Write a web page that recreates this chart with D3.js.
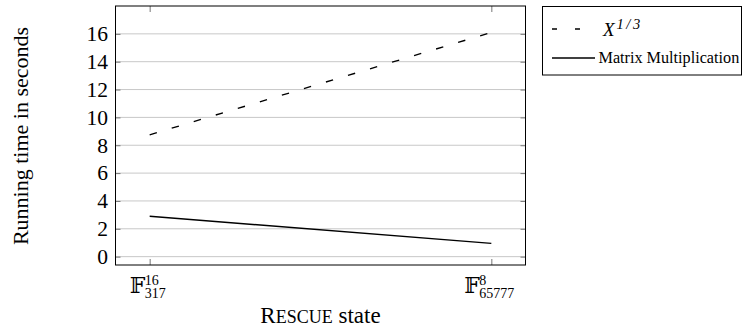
<!DOCTYPE html>
<html>
<head>
<meta charset="utf-8">
<script src="https://cdn.jsdelivr.net/npm/d3@7"></script>
<style>
  body { margin: 0; background: #fff; }
  svg text { font-family: 'Liberation Serif', 'Times New Roman', 'DejaVu Serif', serif; }
</style>
</head>
<body>
<svg id="chart" width="747" height="333"></svg>
<script>
// data
const states = ["F317^16", "F65777^8"];
const stateSup = ["16", "8"];
const stateSub = ["317", "65777"];
const cubeRoot = [8.75, 16.1];
const matMul = [2.9, 0.95];
const yTicks = [0, 2, 4, 6, 8, 10, 12, 14, 16];
const seriesNames = ["X", "Matrix Multiplication"];

const margin = {top: 6, left: 115.5, right: 525.5, bottom: 265};

const svg = d3.select("#chart");

const x = d3.scalePoint()
  .domain(states)
  .range([margin.left, margin.right])
  .padding(0.1);

const y = d3.scaleLinear()
  .domain([-0.6, 18])
  .range([margin.bottom, margin.top]);

// grid lines
svg.append("g")
  .selectAll("line")
  .data(yTicks)
  .enter().append("line")
  .attr("x1", margin.left).attr("x2", margin.right)
  .attr("y1", d => y(d)).attr("y2", d => y(d))
  .attr("stroke", "#c8c8c8")
  .attr("stroke-width", 1);

// y axis (ticks inside on both sides)
const yAxis = svg.append("g")
  .attr("transform", "translate(" + margin.left + ",0)")
  .call(d3.axisRight(y).tickValues(yTicks).tickSize(5).tickFormat(""));
yAxis.select(".domain").remove();
yAxis.selectAll(".tick line").attr("stroke", "#777");

const yAxisR = svg.append("g")
  .attr("transform", "translate(" + margin.right + ",0)")
  .call(d3.axisLeft(y).tickValues(yTicks).tickSize(5).tickFormat(""));
yAxisR.select(".domain").remove();
yAxisR.selectAll(".tick line").attr("stroke", "#777");

// y tick labels
svg.append("g")
  .selectAll("text")
  .data(yTicks)
  .enter().append("text")
  .attr("x", margin.left - 7.5)
  .attr("y", d => y(d))
  .attr("dy", "0.34em")
  .attr("text-anchor", "end")
  .attr("font-size", 21.5)
  .text(d => d);

// x axis ticks (bottom and top, inside)
const xAxis = svg.append("g")
  .attr("transform", "translate(0," + margin.bottom + ")")
  .call(d3.axisTop(x).tickSize(6).tickFormat(""));
xAxis.select(".domain").remove();
xAxis.selectAll(".tick line").attr("stroke", "#777");

const xAxisT = svg.append("g")
  .attr("transform", "translate(0," + margin.top + ")")
  .call(d3.axisBottom(x).tickSize(6).tickFormat(""));
xAxisT.select(".domain").remove();
xAxisT.selectAll(".tick line").attr("stroke", "#777");

// x tick labels: double-struck F with stacked sup/sub
const xl = svg.append("g")
  .selectAll("g")
  .data(states)
  .enter().append("g")
  .attr("transform", (d, i) => {
    const w = 15 + stateSub[i].length * 7;
    return "translate(" + (x(d) - w / 2 - 2) + ",0)";
  });
xl.append("text")
  .attr("x", 0).attr("y", 293)
  .style("font-family", "'DejaVu Serif', 'DejaVu Sans'")
  .attr("font-size", 22)
  .text("\u{1D53D}");
xl.append("text")
  .attr("x", 15).attr("y", 284.5)
  .attr("font-size", 14)
  .text((d, i) => stateSup[i]);
xl.append("text")
  .attr("x", 15).attr("y", 298)
  .attr("font-size", 14)
  .text((d, i) => stateSub[i]);

// lines
const line = d3.line()
  .x((d, i) => x(states[i]))
  .y(d => y(d));

svg.append("path")
  .datum(cubeRoot)
  .attr("d", line)
  .attr("fill", "none")
  .attr("stroke", "#000")
  .attr("stroke-width", 1.4)
  .attr("stroke-dasharray", "7.5,15.5");

svg.append("path")
  .datum(matMul)
  .attr("d", line)
  .attr("fill", "none")
  .attr("stroke", "#000")
  .attr("stroke-width", 1.4);

// frame
svg.append("rect")
  .attr("x", margin.left).attr("y", margin.top)
  .attr("width", margin.right - margin.left)
  .attr("height", margin.bottom - margin.top)
  .attr("fill", "none")
  .attr("stroke", "#000")
  .attr("stroke-width", 1);

// axis titles
svg.append("text")
  .attr("transform", "translate(28,136) rotate(-90)")
  .attr("text-anchor", "middle")
  .attr("font-size", 22)
  .text("Running time in seconds");

const xt = svg.append("text")
  .attr("x", (margin.left + margin.right) / 2)
  .attr("y", 323)
  .attr("text-anchor", "middle")
  .attr("font-size", 23);
xt.append("tspan").text("R");
xt.append("tspan").attr("font-size", 18).text("ESCUE");
xt.append("tspan").text(" state");

// legend
const lg = svg.append("g");
lg.append("rect")
  .attr("x", 542.5).attr("y", 6.5)
  .attr("width", 199).attr("height", 68.5)
  .attr("fill", "#fff")
  .attr("stroke", "#000");

lg.append("line")
  .attr("x1", 552).attr("x2", 595)
  .attr("y1", 29).attr("y2", 29)
  .attr("stroke", "#000").attr("stroke-width", 1.4)
  .attr("stroke-dasharray", "5,18");
const l1 = lg.append("text")
  .attr("x", 603).attr("y", 36)
  .attr("font-size", 19)
  .attr("font-style", "italic");
l1.append("tspan").text(seriesNames[0]);
l1.append("tspan")
  .attr("font-size", 14.5)
  .attr("letter-spacing", 2.5)
  .attr("dy", -7.5).attr("dx", 2)
  .text("1/3");

lg.append("line")
  .attr("x1", 552).attr("x2", 595)
  .attr("y1", 58).attr("y2", 58)
  .attr("stroke", "#000").attr("stroke-width", 1.4);
lg.append("text")
  .attr("x", 598.5).attr("y", 62.5)
  .attr("font-size", 16.2)
  .text(seriesNames[1]);
</script>
</body>
</html>
